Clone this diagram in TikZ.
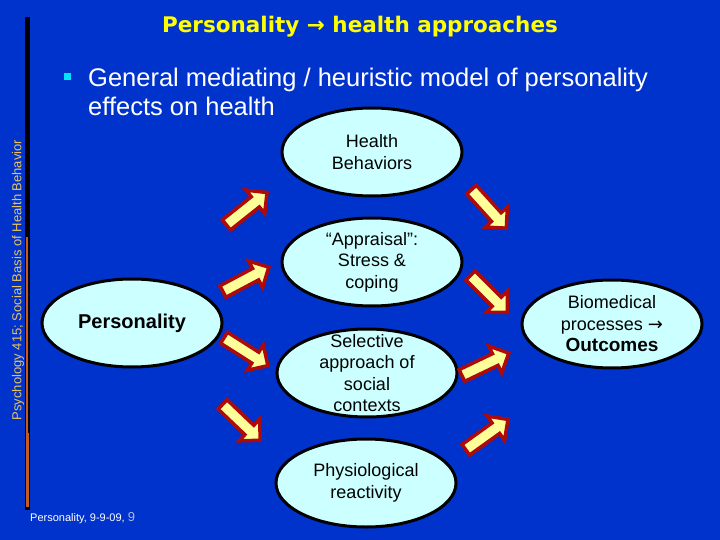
\documentclass[tikz,border=0pt]{standalone}
\usepackage{fontspec}
\setmainfont{Liberation Sans}
\newfontfamily\djv{DejaVu Sans}
\usetikzlibrary{shapes.geometric,shapes.arrows}
\definecolor{bg}{RGB}{0,51,204}
\definecolor{ellfill}{RGB}{204,255,255}
\definecolor{arrfill}{RGB}{255,255,153}
\definecolor{arrline}{RGB}{175,10,10}
\definecolor{titlecol}{RGB}{255,255,0}
\definecolor{sidecol}{RGB}{235,195,95}
\definecolor{barcol}{RGB}{200,90,30}
\definecolor{bulletcol}{RGB}{0,230,255}
\definecolor{pagenum}{RGB}{170,185,230}
\begin{document}
\begin{tikzpicture}[x=1pt,y=-1pt,
  ell/.style={ellipse, draw=black, line width=3pt, fill=ellfill,
    minimum width=180pt, minimum height=88pt, inner sep=0pt},
  lbl/.style={align=center, inner sep=0pt, text=black,
    font=\fontsize{18}{21.5}\selectfont},
  blk/.style={single arrow, draw=arrline, fill=arrfill, line width=3.5pt,
    inner sep=0pt, inner ysep=4.75pt, single arrow head extend=8.5pt,
    minimum height=52pt, anchor=tip},
  bullettext/.style={anchor=base west, inner sep=0pt, text=white,
    font=\fontsize{25.5}{30}\selectfont},
]
\fill[bg] (0,0) rectangle (720,540);
\useasboundingbox (0,0) rectangle (720,540);

% side bar
\fill[black] (24.5,17) rectangle (30,510);
\fill[barcol] (26.2,237) rectangle (28.3,433);
\fill[barcol] (25.8,433) rectangle (28.8,507);

% side title
\node[rotate=90, text=sidecol, inner sep=0pt, font=\fontsize{13}{15}\selectfont]
  (side) at (18,280) {Psychology 415; Social Basis of Health Behavior};

% title
\node[anchor=base, inner sep=0pt, text=titlecol,
  font=\djv\bfseries\fontsize{21.5}{25}\selectfont]
  (title) at (360,33) {Personality → health approaches};

% bullet
\fill[bulletcol] (64,73) rectangle (71,80);
\node[bullettext] (b1) at (88,87) {General mediating / heuristic model of personality};
\node[bullettext] (b2) at (88,116) {effects on health};

% ellipses
\node[ell, label={[lbl]center:Health\\Behaviors}] (hb) at (372,152) {};
\node[ell, label={[lbl]center:“Appraisal”:\\Stress \&\\coping}] (ap) at (372,262) {};
\node[ell, label={[lbl]center:Selective\\approach of\\social\\contexts}] (sel) at (367,373) {};
\node[ell, label={[lbl]center:Physiological\\reactivity}] (phys) at (366,483) {};
\node[ell, label={[lbl, font=\bfseries\fontsize{20}{24}\selectfont]center:Personality}] (pers) at (132,323) {};
\node[ell, label={[lbl]center:Biomedical\\processes {\djv→}\\{\bfseries\fontsize{19}{24}\selectfont Outcomes}}] (bio) at (612,324) {};

% block arrows
\node[blk, rotate=38.5] (a1) at (269,191) {};
\node[blk, rotate=28] (a2) at (271,266) {};
\node[blk, rotate=-32.5] (a3) at (270,367) {};
\node[blk, rotate=-43.6] (a4) at (262,442) {};
\node[blk, rotate=-47.9] (a5) at (508,230) {};
\node[blk, rotate=-45] (a6) at (509,314) {};
\node[blk, rotate=25.6] (a7) at (511,352) {};
\node[blk, rotate=35.7] (a8) at (510,418) {};

% footer
\node[anchor=base west, inner sep=0pt, text=white, font=\fontsize{11}{13}\selectfont]
  (foot) at (30,521) {Personality, 9-9-09, {\color{pagenum}\fontsize{13}{15}\selectfont 9}};
\end{tikzpicture}
\end{document}
